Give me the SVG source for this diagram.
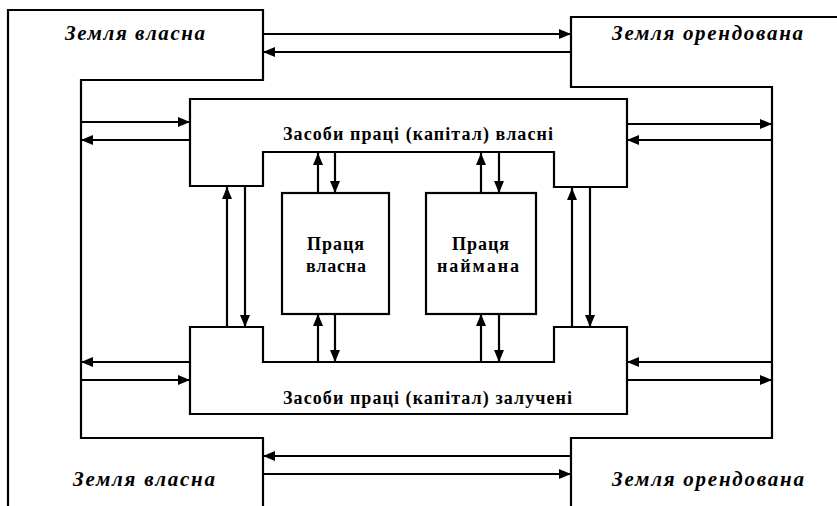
<svg xmlns="http://www.w3.org/2000/svg" width="837" height="506" viewBox="0 0 837 506">
<defs>
<style>
.sh{fill:none;stroke:#000;stroke-width:2.2}
.cn line{stroke:#000;stroke-width:2.2;marker-end:url(#ah)}
.land{font-family:"Liberation Serif","Times New Roman",serif;font-weight:bold;font-style:italic;font-size:21px;fill:#000;text-anchor:middle}
.cap{font-family:"Liberation Serif","Times New Roman",serif;font-weight:bold;font-size:18px;fill:#000;text-anchor:middle}
</style>
<marker id="ah" markerUnits="userSpaceOnUse" markerWidth="12" markerHeight="10" refX="12" refY="5" orient="auto">
<path d="M0,0 L12,5 L0,10 z" fill="#000"/>
</marker>
</defs>
<rect width="837" height="506" fill="#fff"/>
<g id="land-own">
<polyline class="sh" points="8,506 8,10 263,10 263,80 81,80 81,438 263,438 263,506"/>
<text class="land" x="135" y="40" textLength="140" lengthAdjust="spacing">Земля власна</text>
<text class="land" x="144" y="486" textLength="142" lengthAdjust="spacing">Земля власна</text>
</g>
<g id="land-leased">
<polyline class="sh" points="837,17 571,17 571,87 772,87 772,438 571,438 571,506"/>
<text class="land" x="707.5" y="40" textLength="191" lengthAdjust="spacing">Земля орендована</text>
<text class="land" x="708" y="486" textLength="192" lengthAdjust="spacing">Земля орендована</text>
</g>
<g id="capital-own">
<polygon class="sh" points="190,99 627,99 627,187 554,187 554,152 263,152 263,186 190,186"/>
<text class="cap" x="418" y="140" textLength="270" lengthAdjust="spacing">Засоби праці (капітал) власні</text>
</g>
<g id="capital-borrowed">
<polygon class="sh" points="190,327 263,327 263,362 554,362 554,327 627,327 627,414 190,414"/>
<text class="cap" x="427.5" y="404" textLength="289" lengthAdjust="spacing">Засоби праці (капітал) залучені</text>
</g>
<g id="labor-own">
<rect class="sh" x="282" y="193" width="107" height="121"/>
<text class="cap" x="335.5" y="250" textLength="57" lengthAdjust="spacing">Праця</text>
<text class="cap" x="336" y="272" textLength="60" lengthAdjust="spacing">власна</text>
</g>
<g id="labor-hired">
<rect class="sh" x="426" y="193" width="110" height="121"/>
<text class="cap" x="480.5" y="250" textLength="57" lengthAdjust="spacing">Праця</text>
<text class="cap" x="478" y="272" textLength="82" lengthAdjust="spacing">наймана</text>
</g>
<g id="connectors" class="cn">
<line x1="263" y1="34" x2="571" y2="34"/>
<line x1="571" y1="52" x2="263" y2="52"/>
<line x1="81" y1="122" x2="190" y2="122"/>
<line x1="190" y1="140" x2="81" y2="140"/>
<line x1="627" y1="124" x2="772" y2="124"/>
<line x1="772" y1="140" x2="627" y2="140"/>
<line x1="227" y1="327" x2="227" y2="187"/>
<line x1="245" y1="187" x2="245" y2="327"/>
<line x1="572" y1="327" x2="572" y2="188"/>
<line x1="590" y1="188" x2="590" y2="327"/>
<line x1="318" y1="193" x2="318" y2="153"/>
<line x1="335" y1="153" x2="335" y2="193"/>
<line x1="481" y1="193" x2="481" y2="153"/>
<line x1="499" y1="153" x2="499" y2="193"/>
<line x1="318" y1="362" x2="318" y2="314"/>
<line x1="335" y1="314" x2="335" y2="362"/>
<line x1="481" y1="362" x2="481" y2="314"/>
<line x1="499" y1="314" x2="499" y2="362"/>
<line x1="190" y1="362" x2="81" y2="362"/>
<line x1="81" y1="380" x2="190" y2="380"/>
<line x1="772" y1="362" x2="627" y2="362"/>
<line x1="627" y1="380" x2="772" y2="380"/>
<line x1="571" y1="456" x2="263" y2="456"/>
<line x1="263" y1="474" x2="571" y2="474"/>
</g>
</svg>
